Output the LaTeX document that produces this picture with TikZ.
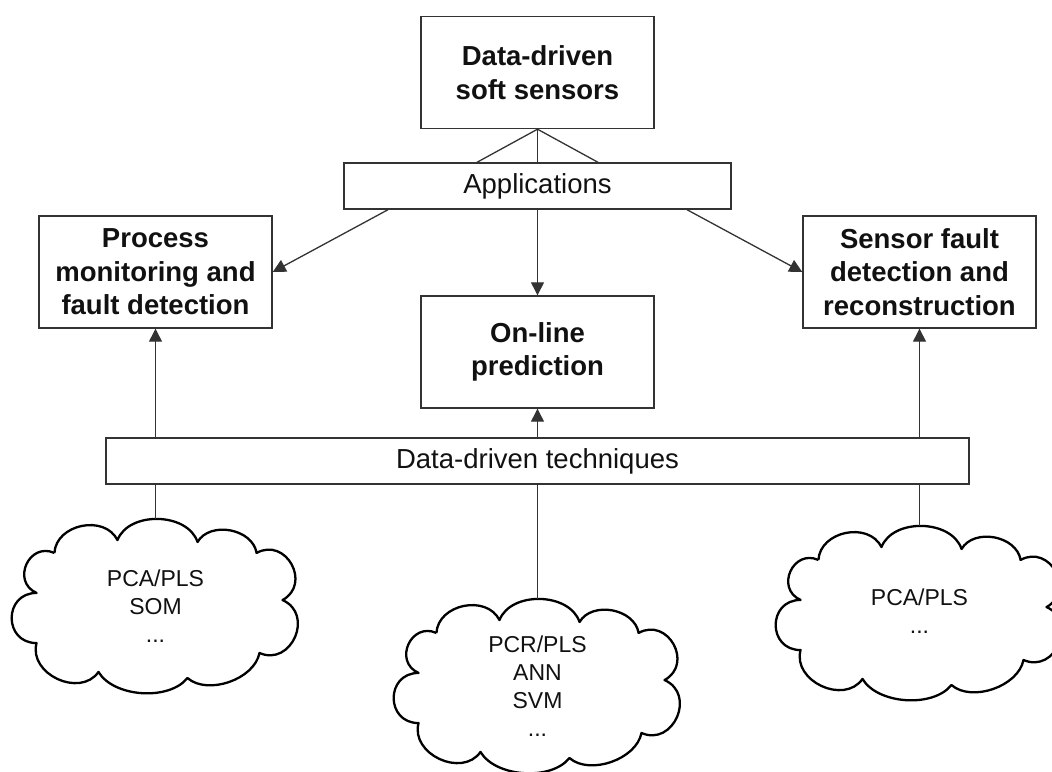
\documentclass[tikz,border=0pt]{standalone}
\usepackage{fontspec}
\setmainfont{Liberation Sans}
\usetikzlibrary{arrows.meta,calc}
\definecolor{boxcol}{HTML}{333333}
\definecolor{txtcol}{HTML}{111111}
\tikzset{
  boxnode/.style={draw=boxcol, line width=1.4pt, minimum width=233pt, minimum height=112pt,
    align=center, inner sep=0pt, text=txtcol, font=\bfseries\fontsize{27.5}{33.5}\selectfont},
  barnode/.style={draw=boxcol, line width=1.4pt, minimum height=46pt, inner sep=0pt,
    text=txtcol, font=\fontsize{27.5}{33}\selectfont},
  conn/.style={draw=boxcol, line width=1.3pt},
  arr/.style={conn, -{Triangle[length=13pt,width=13pt]}},
  cloudline/.style={draw=black, line width=2.3pt, line join=round},
  cloudtext/.style={align=center, inner sep=0pt, text=txtcol, font=\fontsize{23}{28}\selectfont}
}
\newcommand{\mycloud}[3]{%
  \begin{scope}[shift={(#2,#3)}, x=288pt, y={(0pt,-174pt)}]
    \draw[cloudline] (0.149,0.195)
      to[bend left=75, looseness=1.15] (0.368,0.121)
      to[bend left=70] (0.646,0.132)
      to[bend left=70, looseness=1.05] (0.851,0.195)
      to[bend left=90, looseness=1.6] (0.941,0.466)
      to[bend left=90, looseness=1.55] (0.861,0.770)
      to[bend left=60, looseness=0.9] (0.611,0.914)
      to[bend left=55, looseness=0.85] (0.302,0.879)
      to[bend left=80, looseness=1.2] (0.087,0.713)
      to[bend left=90, looseness=1.7] (0.087,0.425)
      to[bend left=90, looseness=1.63] (0.149,0.195);
    \coordinate (#1) at (0.5,0);
  \end{scope}}
\begin{document}
\begin{tikzpicture}[x=1pt, y={(0pt,-1pt)}]
\useasboundingbox (0,0) rectangle (1052,771);
\begin{scope}
\clip (0,0) rectangle (1052,771);
% boxes
\node[boxnode] (top) at (537.5,72.5) {Data-driven\\soft sensors};
\node[barnode, minimum width=387pt] (apps) at (537.5,186) {Applications};
\node[boxnode] (left) at (155.5,272) {Process\\monitoring and\\fault detection};
\node[boxnode] (mid) at (537.5,352) {On-line\\prediction};
\node[boxnode] (right) at (919.5,272) {Sensor fault\\detection and\\reconstruction};
\node[barnode, minimum width=863pt] (tech) at (537.5,461) {Data-driven techniques};
% clouds
\mycloud{cl1}{11.5}{519}
\mycloud{cl2}{393.5}{599}
\mycloud{cl3}{775.5}{526}
\node[cloudtext] (t1) at (155.5,605.7) {PCA/PLS\\SOM\\...};
\node[cloudtext] (t2) at (537.5,685.7) {PCR/PLS\\ANN\\SVM\\...};
\node[cloudtext] (t3) at (919.5,611) {PCA/PLS\\...};
% connectors
\draw[conn] (top.south) -- ([xshift=-60.5pt]apps.north);
\draw[conn] (top.south) -- (apps.north);
\draw[conn] (top.south) -- ([xshift=60.5pt]apps.north);
\draw[arr] ([xshift=-149.5pt]apps.south) -- (left.east);
\draw[arr] (apps.south) -- (mid.north);
\draw[arr] ([xshift=149.5pt]apps.south) -- (right.west);
\draw[arr] (left.south |- tech.north) -- (left.south);
\draw[arr] (tech.north) -- (mid.south);
\draw[arr] (right.south |- tech.north) -- (right.south);
\draw[conn] (cl1 |- tech.south) -- (cl1);
\draw[conn] (cl2 |- tech.south) -- (cl2);
\draw[conn] (cl3 |- tech.south) -- (cl3);
\end{scope}
\end{tikzpicture}
\end{document}
